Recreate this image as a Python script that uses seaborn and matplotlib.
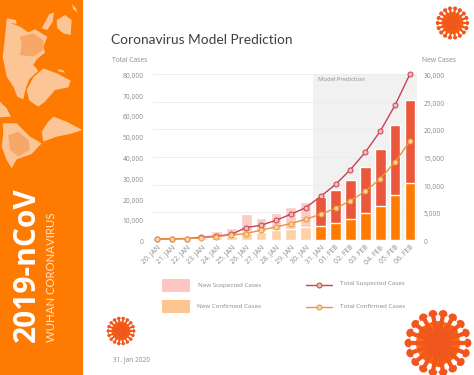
import numpy as np
import pandas as pd
import seaborn as sns
from matplotlib import pyplot as plt
from matplotlib.patches import Circle, Polygon, Rectangle
from matplotlib.transforms import ScaledTranslation

days = ['20. JAN', '21. JAN', '22. JAN', '23. JAN', '24. JAN', '25. JAN', '26. JAN', '27. JAN', '28. JAN',
        '29. JAN', '30. JAN', '31. JAN', '01. FEB', '02. FEB', '03. FEB', '04. FEB', '05. FEB', '06. FEB']
new_suspected = [80, 60, 150, 970, 1700, 2100, 4700, 4000, 4800, 6050, 6950,
                 7860, 8950, 10770, 13200, 16500, 20750, 25300]
new_confirmed = [60, 40, 120, 280, 500, 700, 1200, 1400, 1800, 2000, 2300,
                 2600, 3000, 3750, 4840, 6230, 8170, 10280]
total_suspected = [500, 550, 700, 1300, 1900, 2700, 6000, 7100, 9500, 12400, 15600,
                   20970, 26770, 33900, 42300, 52400, 65000, 80000]
total_confirmed = [450, 500, 600, 1100, 1600, 2400, 3060, 4800, 6300, 7900, 10000,
                   12400, 15300, 18900, 23500, 29500, 37600, 47700]
left_ticks = [0, 10000, 20000, 30000, 40000, 50000, 60000, 70000, 80000]
right_ticks = [0, 5000, 10000, 15000, 20000, 25000, 30000]
n_past = 11

GREY = '#8a8a8a'
ORANGE = '#ff7a00'
sns.set_theme(style='white')
plt.rcParams['font.family'] = ['Open Sans', 'DejaVu Sans']

df = pd.DataFrame({'day': days, 'new_suspected': new_suspected, 'new_confirmed': new_confirmed,
                   'total_suspected': total_suspected, 'total_confirmed': total_confirmed})

fig = plt.figure(figsize=(4.74, 3.75), dpi=100)
W, H = 474, 375

# page layer in pixel coordinates, for panel, icons and legend
page = fig.add_axes([0, 0, 1, 1], zorder=0)
page.set_xlim(0, W)
page.set_ylim(H, 0)
page.axis('off')
page.add_patch(Rectangle((0, 0), 83, H, color=ORANGE, lw=0))

LAND = '#fbc595'
LAND2 = '#f7a868'
land_shapes = [
    [(20, 55), (35, 70), (60, 80), (85, 97), (105, 88), (142, 110), (130, 140), (135, 158), (110, 178),
     (100, 195), (115, 212), (88, 238), (78, 262), (70, 298), (52, 290), (40, 260), (20, 230), (8, 170), (15, 110)],
    [(80, 270), (100, 232), (130, 205), (175, 222), (212, 242), (205, 262), (165, 270), (135, 305),
     (115, 320), (88, 302)],
    [(170, 60), (195, 45), (215, 60), (212, 105), (190, 100), (172, 85)],
    [(145, 365), (160, 350), (200, 365), (247, 390), (210, 402), (170, 410), (130, 425), (125, 395)],
    [(8, 370), (50, 370), (90, 410), (125, 430), (95, 462), (50, 478), (35, 505), (20, 480), (5, 440), (10, 400)],
    [(0, 305), (20, 325), (33, 350), (0, 352)],
    [(172, 208), (190, 210), (195, 218), (178, 215)],
    [(148, 42), (162, 38), (158, 65), (142, 90), (125, 85)],
    [(215, 12), (228, 25), (232, 38), (220, 28)],
    [(22, 55), (48, 60), (50, 72), (30, 68)],
]
for shape in land_shapes:
    page.add_patch(Polygon(np.array(shape) / 3, color=LAND, lw=0))
dark_shapes = [
    [(60, 110), (100, 100), (130, 120), (130, 150), (100, 170), (60, 165), (65, 135)],
    [(25, 405), (55, 395), (85, 420), (90, 450), (55, 470), (30, 450)],
]
for shape in dark_shapes:
    page.add_patch(Polygon(np.array(shape) / 3, color=LAND2, lw=0))

page.text(27, 342, '2019-nCoV', color='white', rotation=90, fontsize=21.5, fontweight='bold',
          ha='center', va='bottom', family='Open Sans')
page.text(52, 342, 'WUHAN CORONAVIRUS', color='#ffe3c8', rotation=90, fontsize=8.2,
          ha='center', va='bottom', family='Lato')


def virus(cx, cy, r, n, body='#ff6d0a', spike='#f0561d', spots=False):
    t = np.linspace(0, 2 * np.pi, n, endpoint=False)
    for a in t:
        page.plot([cx, cx + 1.3 * r * np.cos(a)], [cy, cy + 1.3 * r * np.sin(a)], color=spike, lw=r * 0.14,
                  solid_capstyle='round')
        page.add_patch(Circle((cx + 1.32 * r * np.cos(a), cy + 1.32 * r * np.sin(a)), r * 0.2, color=spike, lw=0))
    for a in t + np.pi / n:
        page.add_patch(Circle((cx + 1.14 * r * np.cos(a), cy + 1.14 * r * np.sin(a)), r * 0.14, color='white', lw=0))
    page.add_patch(Circle((cx, cy), r, color=body, lw=0))
    if spots:
        for dx, dy, s in [(0, 0, .3), (-.6, -.5, .27), (.6, -.5, .3), (-.5, .55, .22), (.6, .5, .22),
                          (0, -.75, .2), (.05, .8, .3)]:
            page.add_patch(Circle((cx + dx * r, cy + dy * r), s * r, color='#f0640e', lw=0))


virus(452.5, 23, 11, 18)
virus(121, 331, 9.5, 18)
virus(438, 343, 22, 18, spots=True)

# chart: bars on the right scale, lines on the left one
x0, x1, y_top, y_bot = 152, 417, 74, 240
ax = fig.add_axes([x0 / W, 1 - y_bot / H, (x1 - x0) / W, (y_bot - y_top) / H], zorder=1)
ax.patch.set_alpha(0)
bar_sus = ['#fbcbc6'] * n_past + ['#ea573a'] * (len(days) - n_past)
bar_conf = ['#fdd0a6'] * n_past + [ORANGE] * (len(days) - n_past)
ax.axvspan(n_past - 0.5, 17.47, color='#f1f1f1', lw=0, zorder=0)
sns.barplot(data=df, x='day', y='new_suspected', hue='day', palette=bar_sus, order=days, legend=False,
            saturation=1, width=0.72, ax=ax, zorder=2)
sns.barplot(data=df, x='day', y='new_confirmed', hue='day', palette=bar_conf, order=days, legend=False,
            saturation=1, width=0.72, ax=ax, zorder=3)

ax2 = ax.twinx()
ax2.patch.set_alpha(0)
ax2.set_zorder(ax.get_zorder() + 1)
LINE_S = '#c9405a'
LINE_C = '#ea9638'
sns.lineplot(data=df, x='day', y='total_suspected', color=LINE_S, lw=1, marker='o', ms=3.6, mfc='#f9b9a8',
             mec=LINE_S, mew=0.7, ax=ax2, clip_on=False, zorder=4)
sns.lineplot(data=df, x='day', y='total_confirmed', color=LINE_C, lw=1, marker='o', ms=3.6, mfc='#fcd39b',
             mec=LINE_C, mew=0.7, ax=ax2, clip_on=False, zorder=5)

ax.set_xlim(-0.32, 17.47)
ax.set_ylim(0, 30000)
ax.set_yticks(right_ticks)
ax.set_yticklabels([f'{v:,}' for v in right_ticks])
ax.yaxis.tick_right()
ax.grid(axis='y', color='#ececec', lw=0.6, zorder=1)
ax.set_axisbelow(True)
ax.set_xlabel('')
ax.set_ylabel('')
ax.tick_params(axis='y', length=0, labelsize=4.8, labelcolor=GREY, pad=5)
ax.tick_params(axis='x', length=0, labelsize=5, labelcolor=GREY, pad=3)
plt.setp(ax.get_xticklabels(), rotation=45, ha='right', rotation_mode='anchor')
sns.despine(ax=ax, left=True, bottom=True, right=True)
ax.text(n_past - 0.15, 29000, 'Model Prediction', fontsize=4.2, color=GREY, va='center', zorder=5)

ax2.set_xlim(-0.32, 17.47)
ax2.set_ylim(0, 80000)
ax2.set_yticks(left_ticks)
ax2.set_yticklabels([f'{v:,}' for v in left_ticks])
ax2.yaxis.tick_left()
ax2.tick_params(axis='y', length=0, labelsize=4.8, labelcolor=GREY, pad=6)
ax2.set_xlabel('')
ax2.set_ylabel('')
sns.despine(ax=ax2, left=True, bottom=True, right=True)

# tick labels sit a little under their gridlines in the original
nudge = ScaledTranslation(0, -1.5 / 100, fig.dpi_scale_trans)
for label in ax.get_yticklabels() + ax2.get_yticklabels():
    label.set_transform(label.get_transform() + nudge)

# titles and legend
page.text(111, 40, 'Coronavirus Model Prediction', fontsize=9.9, color='#3f3f3f', family='Lato', va='center')
page.text(112, 61, 'Total Cases', fontsize=4.9, color=GREY, va='center')
page.text(422, 61, 'New Cases', fontsize=4.9, color=GREY, va='center')
page.text(113, 360, '31. Jan 2020', fontsize=4.7, color=GREY, va='center')

page.add_patch(Rectangle((162, 279), 28, 13, color='#fdc6c3', lw=0))
page.add_patch(Rectangle((162, 300), 28, 13, color='#fdc592', lw=0))
page.text(261, 286, 'New Suspected Cases', fontsize=4.5, color=GREY, ha='right', va='center')
page.text(261, 307, 'New Confirmed Cases', fontsize=4.5, color=GREY, ha='right', va='center')
page.plot([306, 332], [285, 285], color=LINE_S, lw=1, marker=None)
page.plot([319], [285], marker='o', ms=3.6, mfc='#f9b9a8', mec=LINE_S, mew=0.7)
page.plot([306, 332], [307, 307], color=LINE_C, lw=1)
page.plot([319], [307], marker='o', ms=3.6, mfc='#fcd39b', mec=LINE_C, mew=0.7)
page.text(340, 284, 'Total Suspected Cases', fontsize=4.5, color=GREY, va='center')
page.text(340, 307, 'Total Confirmed Cases', fontsize=4.5, color=GREY, va='center')

plt.savefig('out.png', dpi=100)
